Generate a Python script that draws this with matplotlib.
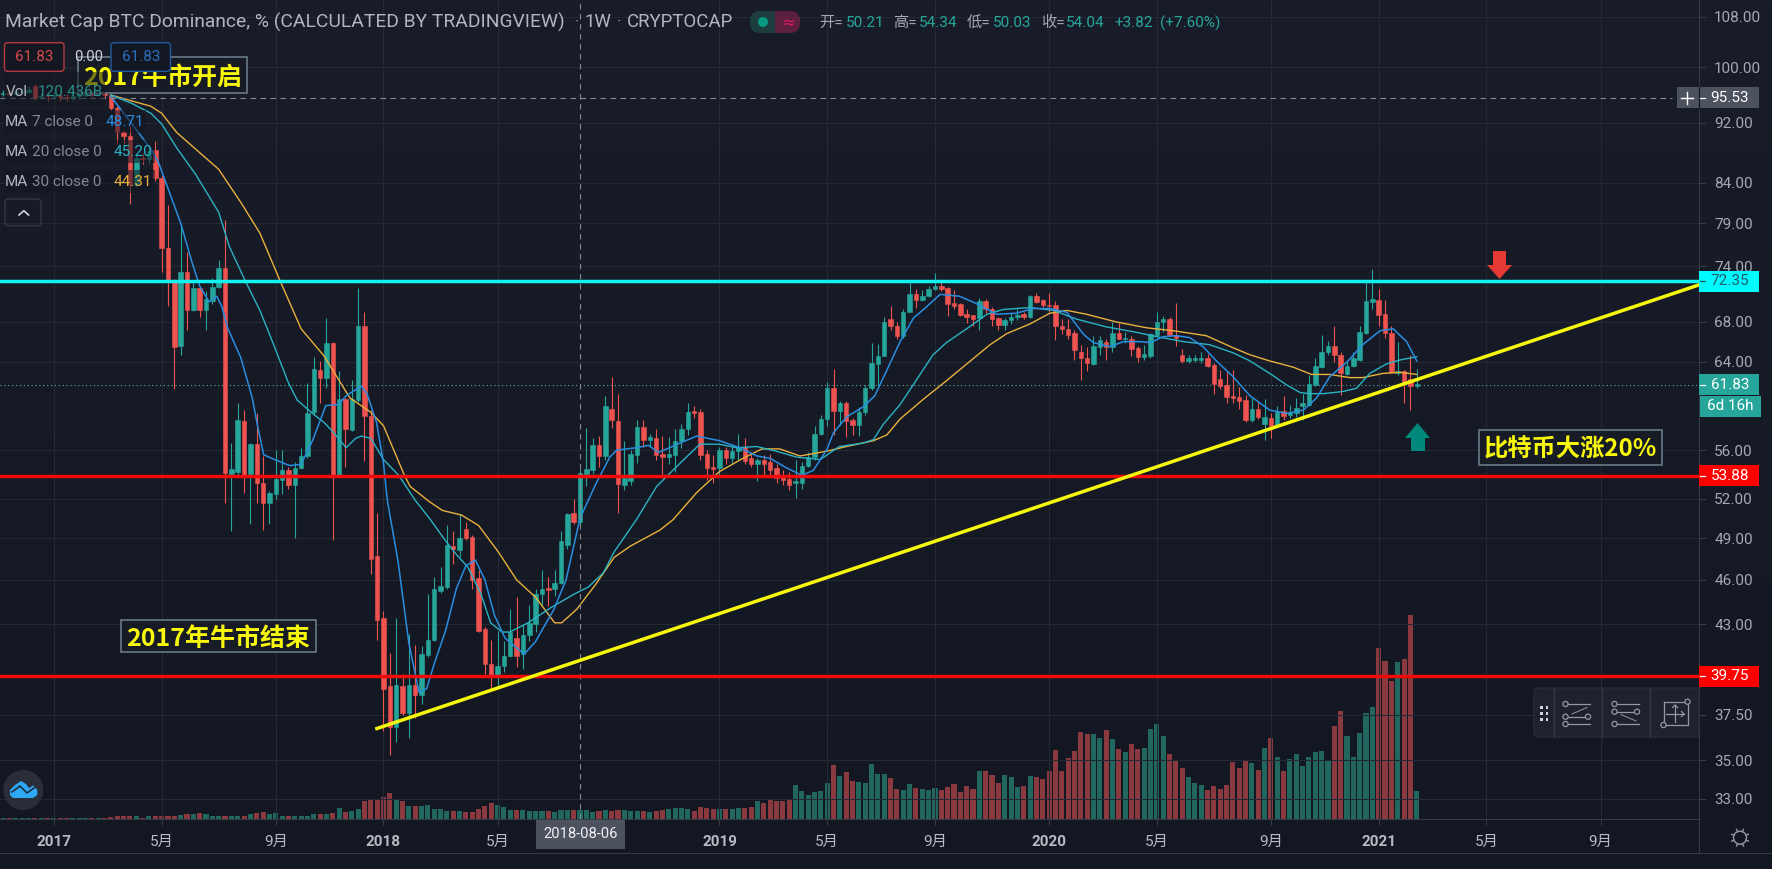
import numpy as np
import matplotlib
matplotlib.use("Agg")
import matplotlib.pyplot as plt
from matplotlib.colors import LinearSegmentedColormap
from matplotlib.lines import Line2D
from matplotlib.patches import Circle, FancyBboxPatch, Polygon, Rectangle
from matplotlib.ticker import NullLocator
from matplotlib.transforms import Affine2D, blended_transform_factory

W, H = 1772, 869
FIRST_WEEK = -60  # weeks counted from 2018-01-01

# -----------------------------------------------
# DATA
# -----------------------------------------------
candle_open = [
    96.0, 96.2, 96.1, 96.3, 96.4, 97.2, 95.6, 95.8, 95.7, 95.9, 95.6, 95.5, 95.7, 95.9, 96.0, 95.9, 96.2,
    95.9, 94.05, 90.7, 90.2, 83.7, 87.2, 87.0, 88.2, 84.6, 76.05, 72.35, 65.6, 73.3, 69.2, 71.55, 69.2, 70.2, 71.7,
    73.8, 54.0, 54.2, 58.5, 54.0, 56.5, 53.3, 51.7, 52.4, 53.5, 54.3, 53.1, 54.5, 55.5, 59.3, 63.2, 62.5, 65.9,
    53.9, 60.5, 57.7, 60.4, 67.6, 59.0, 47.7, 43.4, 39.15, 36.8, 39.15, 37.6, 39.25, 38.65, 41.05, 42.0, 45.2, 45.5,
    48.4, 48.1, 49.7, 49.1, 46.1, 42.7, 40.5, 39.8, 40.4, 41.0, 42.1, 41.1, 42.3, 43.0, 45.0, 45.45, 45.4, 45.8,
    48.5, 50.9, 50.2, 54.0, 54.3, 56.4, 55.5, 59.6, 58.5, 53.1, 53.4, 55.6, 58.0, 56.9, 57.0, 55.7, 55.4, 55.6,
    56.8, 57.8, 59.4, 59.3, 55.7, 54.6, 54.5, 56.0, 55.3, 55.9, 56.3, 55.3, 54.8, 55.2, 55.0, 54.5, 53.8, 53.6,
    53.3, 53.3, 54.7, 55.4, 57.4, 58.7, 61.5, 59.4, 60.1, 58.6, 58.2, 59.3, 61.5, 63.8, 64.6, 68.3, 67.6, 66.6,
    69.0, 70.9, 70.3, 70.7, 71.5, 71.8, 71.6, 70.0, 69.9, 68.8, 68.7, 68.4, 70.2, 69.4, 68.4, 67.7, 68.2, 68.5,
    68.8, 68.5, 70.7, 70.3, 69.8, 69.8, 67.6, 67.3, 66.9, 65.0, 64.4, 63.8, 65.5, 66.0, 65.5, 66.9, 66.3, 66.3,
    65.4, 64.5, 64.6, 66.7, 68.0, 68.3, 66.7, 64.7, 64.1, 64.2, 64.2, 64.4, 63.7, 62.4, 61.8, 60.8, 60.7, 60.4,
    58.6, 59.6, 58.3, 58.8, 58.1, 59.4, 59.1, 59.2, 59.9, 60.0, 61.8, 63.5, 65.0, 65.6, 64.7, 62.8, 63.6, 64.2,
    66.9, 70.1, 70.3, 68.8, 66.9, 62.9, 63.1, 62.4, 61.7,
]
candle_close = [
    96.2, 96.1, 96.3, 96.4, 96.6, 95.5, 95.8, 95.7, 95.9, 95.6, 95.5, 95.7, 95.9, 96.0, 95.9, 96.2, 95.9,
    94.05, 90.7, 90.1, 83.7, 87.2, 87.0, 88.1, 84.6, 76.05, 72.35, 65.5, 73.3, 69.2, 71.55, 69.2, 70.4, 71.7, 73.8,
    54.1, 54.4, 58.6, 53.85, 56.5, 53.3, 51.7, 52.5, 53.6, 54.3, 53.1, 54.5, 55.5, 59.2, 63.3, 62.5, 65.9, 53.9,
    60.5, 57.8, 60.5, 67.6, 59.0, 47.5, 43.3, 39.0, 36.8, 39.2, 37.6, 39.25, 38.65, 41.1, 42.0, 45.4, 45.6, 48.5,
    48.2, 49.0, 49.0, 46.0, 42.6, 40.5, 39.8, 40.4, 41.0, 42.5, 41.0, 42.3, 43.1, 45.0, 45.4, 45.3, 45.8, 48.8,
    50.8, 50.2, 54.1, 54.4, 56.4, 55.5, 59.9, 58.6, 53.2, 53.7, 55.7, 58.0, 56.9, 57.1, 55.6, 55.4, 55.7, 56.8,
    57.8, 59.3, 59.2, 55.6, 54.5, 54.4, 56.0, 55.3, 55.9, 56.3, 55.1, 54.8, 55.2, 54.8, 54.3, 53.7, 53.5, 53.1,
    53.4, 54.7, 55.4, 57.4, 58.7, 61.5, 59.4, 60.1, 58.5, 58.2, 59.3, 61.5, 63.9, 64.6, 68.0, 67.6, 66.6, 69.0,
    70.9, 70.3, 70.7, 71.5, 71.8, 71.5, 69.9, 69.7, 68.7, 68.5, 68.3, 70.2, 69.3, 68.3, 67.7, 68.2, 68.5, 68.7,
    68.5, 70.7, 70.1, 69.8, 69.7, 67.6, 67.3, 66.7, 65.2, 64.4, 63.9, 65.6, 66.2, 65.5, 66.9, 66.3, 66.4, 65.3,
    64.5, 64.8, 66.8, 68.0, 68.3, 66.7, 66.4, 64.1, 64.4, 64.4, 64.4, 63.6, 61.9, 61.7, 60.7, 60.6, 60.3, 58.6,
    59.6, 58.9, 58.9, 58.1, 59.4, 59.0, 59.3, 59.7, 60.1, 61.9, 63.6, 65.0, 65.6, 64.7, 62.9, 63.6, 64.4, 67.0,
    70.2, 70.4, 68.7, 66.9, 63.0, 63.1, 61.9, 61.7, 61.9,
]
candle_high = [
    96.6, 96.5, 96.6, 96.9, 97.2, 97.5, 96.2, 96.2, 96.3, 96.2, 96.0, 96.1, 96.3, 96.4, 96.4, 96.5, 96.6,
    96.0, 94.3, 91.0, 91.5, 87.6, 87.8, 88.5, 89.4, 85.0, 81.2, 72.6, 78.9, 75.6, 72.4, 71.8, 71.3, 72.7, 74.75,
    79.4, 56.6, 60.1, 59.5, 56.6, 59.2, 55.5, 52.6, 56.0, 56.0, 54.6, 55.0, 56.2, 62.0, 64.5, 64.1, 68.4, 66.0,
    63.1, 60.6, 62.3, 71.6, 69.0, 59.5, 50.9, 43.9, 41.2, 43.4, 39.9, 42.4, 41.7, 41.6, 45.0, 46.2, 46.9, 50.0,
    49.5, 50.8, 50.2, 49.2, 46.7, 42.8, 42.0, 42.6, 41.9, 44.0, 44.8, 43.0, 44.3, 45.4, 46.7, 46.2, 46.7, 49.5,
    50.9, 52.0, 54.4, 57.9, 57.0, 57.2, 60.8, 62.6, 61.0, 56.8, 56.0, 58.6, 58.6, 57.4, 57.8, 57.2, 57.1, 57.8,
    58.3, 60.1, 59.9, 59.6, 56.0, 55.6, 56.3, 56.3, 56.5, 57.4, 57.0, 55.8, 55.3, 55.6, 55.7, 54.8, 54.3, 54.2,
    55.2, 55.0, 55.8, 58.1, 59.1, 62.1, 63.3, 60.3, 60.3, 58.8, 59.8, 61.8, 65.9, 65.8, 68.5, 69.7, 68.0, 69.3,
    72.35, 71.5, 71.4, 71.8, 73.2, 72.35, 71.7, 71.4, 70.0, 69.3, 68.7, 70.5, 70.4, 69.6, 68.5, 68.4, 69.0, 69.3,
    69.0, 70.8, 71.1, 70.4, 71.1, 70.2, 68.3, 68.3, 67.2, 65.7, 65.5, 66.6, 66.6, 66.3, 68.0, 67.9, 67.0, 66.6,
    65.6, 65.7, 66.9, 69.0, 68.6, 68.5, 70.0, 65.3, 64.7, 64.7, 65.0, 64.8, 63.9, 63.2, 63.1, 63.2, 61.6, 60.9,
    60.6, 60.2, 60.5, 59.2, 59.9, 60.8, 60.0, 60.6, 61.0, 62.7, 64.4, 66.7, 66.1, 67.6, 65.0, 64.1, 65.0, 67.6,
    72.35, 73.7, 71.5, 70.3, 67.6, 66.0, 63.2, 64.7, 63.3,
]
candle_low = [
    95.7, 95.8, 95.9, 96.0, 96.2, 95.2, 95.3, 95.0, 95.4, 95.1, 95.0, 95.0, 95.3, 95.6, 95.6, 95.7, 95.5,
    93.8, 89.1, 89.1, 81.3, 83.4, 86.4, 86.5, 84.2, 73.3, 69.7, 61.4, 64.7, 67.2, 69.1, 68.5, 67.2, 69.9, 71.6,
    51.7, 49.5, 53.9, 52.5, 50.1, 51.7, 49.6, 50.1, 52.0, 52.4, 52.8, 49.0, 54.4, 55.3, 59.1, 60.1, 61.5, 48.9,
    53.8, 54.6, 57.6, 60.2, 55.1, 46.4, 42.0, 36.6, 35.3, 36.0, 37.5, 36.2, 37.3, 38.1, 40.9, 41.9, 45.1, 45.4,
    47.1, 47.6, 48.9, 45.4, 42.5, 39.9, 39.0, 39.2, 40.0, 40.9, 40.3, 40.2, 41.9, 42.5, 44.3, 44.2, 44.9, 45.7,
    48.2, 50.1, 49.9, 53.0, 54.0, 54.6, 55.2, 57.9, 50.9, 52.7, 53.1, 54.9, 56.3, 56.3, 55.2, 53.7, 54.8, 54.2,
    56.2, 57.3, 58.8, 55.2, 53.5, 53.3, 53.8, 54.8, 54.9, 55.2, 54.8, 54.6, 53.4, 53.9, 53.8, 53.3, 53.1, 52.7,
    52.1, 52.8, 54.6, 55.2, 57.3, 58.1, 57.3, 58.2, 57.1, 57.3, 57.2, 59.1, 61.3, 61.7, 64.6, 67.2, 66.3, 66.4,
    69.0, 69.5, 70.2, 70.6, 71.4, 71.3, 68.6, 69.4, 68.6, 67.9, 67.6, 67.2, 68.9, 67.6, 67.2, 67.2, 67.8, 68.2,
    68.3, 68.4, 70.0, 69.6, 69.0, 66.2, 66.8, 66.3, 64.2, 62.3, 63.1, 63.7, 64.7, 64.2, 65.0, 66.3, 65.9, 64.6,
    64.0, 64.2, 64.4, 66.6, 67.0, 66.7, 65.6, 63.9, 63.9, 64.0, 63.9, 63.5, 61.0, 61.4, 60.1, 60.1, 59.6, 58.4,
    58.4, 58.7, 56.9, 57.0, 58.0, 58.6, 58.8, 58.9, 58.6, 59.9, 61.7, 63.4, 64.7, 64.0, 60.9, 62.7, 63.5, 64.1,
    66.8, 69.3, 67.6, 66.4, 62.9, 62.7, 60.1, 59.5, 61.5,
]
# volume in billions
volume = [
    5, 5, 5, 5, 5, 6, 6, 6, 6, 6, 5, 6, 5, 5, 6, 7, 7, 8,
    13, 13, 13, 13, 7, 13, 13, 13, 13, 13, 17, 21, 21, 27, 21, 16, 16, 16, 16, 16, 16, 21, 26, 31,
    21, 26, 16, 16, 16, 16, 16, 21, 21, 21, 26, 50, 30, 34, 43, 77, 86, 86,
    97, 112, 87, 79, 57, 57, 57, 62, 46, 44, 36, 36, 36, 30, 32, 44, 57, 70, 62, 53,
    40, 40, 40, 36, 36, 36, 36, 32, 40, 40, 40, 40, 40, 32, 36, 40, 36, 40, 40, 36,
    36, 36, 32, 36, 40, 44, 49, 49, 44, 36, 53, 49, 46, 44, 44, 44, 49, 49, 53, 79,
    70, 83, 79, 79, 83, 148, 122, 105, 118, 122, 156, 234, 186, 204, 165, 160, 156, 238, 195, 195,
    178, 130, 126, 152, 135, 130, 126, 135, 126, 139, 152, 118, 143, 130, 208, 208, 191, 156, 191, 182,
    139, 143, 186, 182, 173, 208, 298, 208, 264, 294, 375, 367, 367, 350, 384, 345, 302, 289, 324, 302,
    307, 388, 410, 358, 281, 251, 221, 182, 156, 148, 126, 143, 130, 148, 246, 221, 251, 242, 212, 307,
    350, 268, 208, 259, 281, 229, 268, 289, 294, 255, 401, 466, 358, 268, 371, 457, 483, 737, 681, 595,
    676, 689, 878, 122,
]

ma7_week = [-43, -36.7, -35.5, -32, -30.2, -29, -27.5, -26.3, -25.5, -24.6, -22.5, -20.7, -19.8, -18.9, -17.2,
            -14.8, -13, -11.2, -9.1, -7.1, -5.9, -3.5, -2.6, -1.1, 0, 0.6, 2.3, 4, 5.6, 6.8, 8, 9.8, 11.5, 13, 14.5,
            16, 17.5, 19.2, 22.2, 24, 26.9, 28.8, 31, 33.6, 35.7, 36.8, 39.9, 41.8, 43.4, 46.8, 49.4, 53, 56.2,
            58.9, 61, 63.6, 66, 67.8, 69.9, 71, 73.1, 75.7, 77.5, 79.4, 81.5, 83.6, 85.7, 87.8, 90.9, 93.6, 96.7,
            99.8, 102.5, 105.1, 107.8, 110.5, 112, 114.6, 116.7, 119.4, 121, 123, 125.1, 127.2, 129.3, 131.4,
            134, 136.7, 139.8, 142.5, 145.1, 147.2, 149.3, 152, 154.5, 157.2, 159.3, 161.4, 163]
ma7_value = [95.7, 88.4, 86.6, 79, 74.4, 71.8, 70.1, 70.7, 69.6, 67.4, 64.4, 60.6, 57.9, 55.6, 55.2,
             54.7, 54.8, 56.8, 59.9, 60, 60.8, 61.7, 61, 58.4, 54.9, 51.9, 47.3, 41.8, 38.8, 39, 40.5, 42.6, 45.4, 47, 47.4,
             46, 43.6, 42.1, 41.1, 41.9, 44, 46, 50.5, 53.3, 55.4, 56, 56.2, 56.4, 55.8, 56.6, 57.2, 56.8, 56.2,
             55.5, 55.3, 54.5, 53.9, 54.3, 56, 57.5, 58.9, 59.8, 60.8, 63.2, 66, 68.4, 69.6, 70.9, 70.7, 69.9, 68.8,
             68.9, 69.4, 69.4, 69, 66.7, 65.9, 65.5, 66, 66, 65.9, 66.5, 66.6, 66.4, 65.5, 64.1,
             62.6, 60.8, 59.5, 59.2, 59.5, 60.6, 62.6, 64, 65.7, 67.1, 67.3, 66, 64.1]

ma20_week = [-43, -39.7, -36.7, -35, -32.6, -29.6, -26, -24.3, -21.9, -19.5, -17.2, -15, -13.6, -11.2, -9.4, -8,
             -5.9, -4.4, -3.5, -2, 0, 2.4, 5, 7.4, 9.8, 11.5, 13.3, 15.4, 16.9, 18.7, 19.9, 22.8, 26.4, 30, 32.3, 34.7,
             36.4, 39.9, 43.1, 46.8, 49.9, 53, 55.7, 58.9, 62, 65.2, 68.9, 71.9, 75.7, 77.3, 78.8, 81.5, 84.1, 86.7,
             88.8, 92, 95.2, 97.8, 102, 105.7, 109.3, 114, 118.3, 122, 126.2, 130.3, 134, 136.7, 139.8, 142.5,
             144.6, 146, 148.3, 151.4, 153.5, 155.6, 158.2, 160.4, 163]
ma20_value = [95.9, 94.7, 93.3, 91.8, 88.5, 85, 80.3, 76.2, 72.5, 69.2, 65.5, 62, 60.4, 59.2, 58.4, 57.6,
              56.2, 57, 57.2, 57, 55.2, 53.9, 51.9, 50.4, 48.8, 47.8, 46.9, 45, 43.1, 42.5, 42.5, 43.1, 44.1, 45, 45.5, 46.5,
              48, 50.4, 53, 54.9, 56.5, 56.5, 56.2, 56.3, 55.9, 55.4, 55.2, 56.3, 56.6, 56.9, 58.2, 60, 62.3, 64.7,
              65.9, 67.3, 68.8, 69.3, 69.5, 69.2, 68.3, 67.5, 67, 66.5, 66, 65.7, 64.9, 64.1, 62.9, 61.8,
              61.1, 61, 61, 61.2, 61.5, 62.9, 63.8, 64.2, 64.5]

ma30_week = [-43, -39.7, -36.7, -35, -32.6, -26, -22.5, -19.5, -16.3, -13, -9.4, -5.3, -2, 0, 3.3, 4.2, 7.2, 9.3,
             12.3, 15, 18.1, 21, 24, 27, 28.1, 30.5, 33.5, 36.4, 38.9, 43.6, 45.7, 49.4, 53, 56.7, 59.7, 62.5, 65.7,
             69.9, 73, 77.3, 79.4, 81.5, 85.2, 88.8, 92, 95.7, 98.3, 102, 105.1, 107.8, 110.9, 115.6, 120.4, 124.6,
             129.8, 134, 136.7, 139.8, 143.5, 146.4, 149.3, 152.4, 154.5, 157.7, 160.4, 163]
ma30_value = [95.9, 95.05, 94.3, 93.3, 90.6, 85.7, 81.5, 77.8, 72.35, 67.3, 64.6, 60.6, 59.3, 58.1, 53.9, 53, 51.8, 51.1,
              50.75, 49.95, 48, 46, 44.8, 43.1, 43.1, 44, 45.7, 47.6, 48.4, 49.6, 50.4, 52.5, 54.2, 55.3, 56.1, 56.1, 55.5,
              55.9, 56.3, 56.8, 57.3, 58.7, 60.5, 62.2, 63.8, 65.7, 66.8, 67.8, 68.9, 69.2, 68.8, 68, 67.4, 67.1,
              66.6, 65.4, 64.7, 64.1, 63.5, 62.8, 62.8, 62.5, 62.5, 62.9, 63, 62.8]

support_weeks = [-1.04, 207.4]
support_values = [36.72, 71.9]
level_cyan = 72.35
level_red = [53.88, 39.75]
last_price = 61.83
top_dash_price = 95.53
cross_week = 31

y_ticks = [108, 100, 92, 84, 79, 74, 68, 64, 56, 52, 49, 46, 43, 37.5, 35, 33]
x_tick_weeks = [-52, -35, -17, 0, 18, 53, 70, 87, 105, 122, 140, 157, 174, 192]
x_tick_labels = ["2017", "5月", "9月", "2018", "5月", "2019", "5月", "9月", "2020", "5月", "9月", "2021", "5月", "9月"]

# -----------------------------------------------
# STYLE
# -----------------------------------------------
UP = "#26a69a"
DOWN = "#ef5350"
VOL_UP = "#22675f"
VOL_DOWN = "#8a3a3f"
GRID = "#252934"
FRAME = "#363a45"
TXT = "#a6a9b2"
YELLOW = "#f7f70c"
CJK = ["Noto Sans CJK SC", "DejaVu Sans"]
UI = ["Roboto", "Noto Sans CJK SC", "DejaVu Sans"]

plt.rcParams["font.family"] = UI
fig = plt.figure(figsize=(W / 100, H / 100), dpi=100)

# everything drawn on top of the chart is placed in image pixels
px = Affine2D().scale(1, -1).translate(0, H)

bg_ax = fig.add_axes([0, 0, 1, 1], zorder=-5)
bg_ax.imshow(np.linspace(0, 1, 256)[:, None], aspect="auto",
             cmap=LinearSegmentedColormap.from_list("bg", ["#191d29", "#131722"]))
bg_ax.axis("off")

PANE_RIGHT = 1698.8
PANE_BOTTOM = 819.3
rect = [0, 1 - PANE_BOTTOM / H, PANE_RIGHT / W, PANE_BOTTOM / H]

vol_ax = fig.add_axes(rect, zorder=1)
vol_ax.patch.set_visible(False)
ax = fig.add_axes(rect, zorder=2)
ax.patch.set_visible(False)

weeks = np.arange(FIRST_WEEK, FIRST_WEEK + len(candle_open))
o = np.array(candle_open)
c = np.array(candle_close)
is_up = c >= o

# -----------------------------------------------
# VOLUME
# -----------------------------------------------
vol_ax.bar(weeks, volume, width=0.8, color=np.where(is_up, VOL_UP, VOL_DOWN))
vol_ax.set_xlim(-60.5, 207.5)
vol_ax.set_ylim(0, 3515)
vol_ax.axis("off")

# -----------------------------------------------
# CANDLES AND LINES
# -----------------------------------------------
ax.set_yscale("log")
ax.set_xlim(-60.5, 207.5)
ax.set_ylim(32.0, 110.77)

ax.vlines(weeks, candle_low, candle_high, colors=np.where(is_up, UP, DOWN), lw=0.8, zorder=3)
ax.bar(weeks, np.abs(c - o), bottom=np.minimum(o, c), width=0.7,
       color=np.where(is_up, UP, DOWN), edgecolor=np.where(is_up, UP, DOWN), lw=0.4, zorder=4)

ax.plot(ma30_week, ma30_value, color="#e9b03c", lw=1.0, zorder=5)
ax.plot(ma20_week, ma20_value, color="#2ab3c4", lw=1.0, zorder=5)
ax.plot(ma7_week, ma7_value, color="#2a8ee0", lw=1.1, zorder=5)

ax.axhline(last_price, color="#5fa8a2", lw=0.8, ls=(0, (1, 2.5)), zorder=2)
ax.plot([-60.5, 203.3], [top_dash_price, top_dash_price], color="#85888f", lw=0.8, ls=(0, (5, 4)), zorder=6)
ax.axvline(cross_week, color="#85888f", lw=0.8, ls=(0, (5, 4)), zorder=6)
ax.axhline(level_cyan, color="#12f2f2", lw=2.5, zorder=7)
for lvl in level_red:
    ax.axhline(lvl, color="#f00a0a", lw=2.5, zorder=7)
ax.plot(support_weeks, support_values, color=YELLOW, lw=2.5, zorder=8)

ax.yaxis.tick_right()
ax.set_yticks(y_ticks)
ax.set_yticklabels([f"{t:.2f}" for t in y_ticks])
ax.yaxis.set_minor_locator(NullLocator())
ax.set_xticks(x_tick_weeks)
ax.set_xticklabels(x_tick_labels)
ax.tick_params(axis="y", length=5, width=0.8, color=FRAME, labelcolor=TXT, labelsize=11, pad=6)
ax.tick_params(axis="x", length=4, width=0.8, color=FRAME, labelcolor="#b8bbc3", labelsize=11, pad=7)
for lab in ax.get_xticklabels():
    if lab.get_text().startswith("20"):
        lab.set_fontweight("bold")
ax.grid(True, color=GRID, lw=0.8, zorder=0)
ax.set_axisbelow(True)
for side in ["top", "left"]:
    ax.spines[side].set_visible(False)
for side in ["right", "bottom"]:
    ax.spines[side].set_color(FRAME)
    ax.spines[side].set_linewidth(0.8)


# -----------------------------------------------
# PRICE TAGS
# -----------------------------------------------
tag_tr = blended_transform_factory(ax.transAxes, ax.transData)

def price_tag(price, color, fg, left=1699, right=1759):
    half = np.exp(10.5 / 660)
    ax.add_patch(Rectangle((left / PANE_RIGHT, price / half), (right - left) / PANE_RIGHT, price * half - price / half,
                           transform=tag_tr, fc=color, ec="none", clip_on=False, zorder=20))
    ax.text(1710.5 / PANE_RIGHT, price, f"{price:.2f}", transform=tag_tr, color=fg, fontsize=11,
            va="center", ha="left", clip_on=False, zorder=21)
    ax.add_line(Line2D([1700 / PANE_RIGHT, 1705 / PANE_RIGHT], [price, price], transform=tag_tr, color=fg,
                       lw=0.9, clip_on=False, zorder=21))

price_tag(level_cyan, "#00fbff", "#1c5f68")
price_tag(level_red[0], "#ff0000", "#ffffff")
price_tag(level_red[1], "#ff0000", "#ffffff")
price_tag(last_price, UP, "#ffffff")
price_tag(top_dash_price, "#4c525e", "#ffffff", left=1677)

fig.add_artist(Line2D([1698.5, 1698.5], [87, 108], transform=px, color="#131722", lw=0.8, zorder=30))
fig.add_artist(Line2D([1681, 1693], [97.7, 97.7], transform=px, color="#ffffff", lw=1.0, zorder=30))
fig.add_artist(Line2D([1687, 1687], [91.7, 103.7], transform=px, color="#ffffff", lw=1.0, zorder=30))

fig.add_artist(Rectangle((1700, 395.7), 61, 21, transform=px, fc=UP, ec="none", zorder=20))
fig.text(1730.5, 406, "6d 16h", transform=px, color="#ffffff", fontsize=11, ha="center", va="center", zorder=21)

fig.add_artist(Rectangle((536, 820), 89, 29, transform=px, fc="#4c525e", ec="none", zorder=20))
fig.text(580.4, 833.5, "2018-08-06", transform=px, color="#f0f1f3", fontsize=10.6, ha="center", va="center", zorder=21)

fig.add_artist(Line2D([0, W], [853, 853], transform=px, color=FRAME, lw=0.8, zorder=9))
fig.add_artist(Line2D([1699, 1699], [819, 853], transform=px, color=FRAME, lw=0.8, zorder=9))


# -----------------------------------------------
# YELLOW NOTES AND ARROWS
# -----------------------------------------------
def note(x0, y0, x1, y1, text, size):
    fig.add_artist(Rectangle((x0, y0), x1 - x0, y1 - y0, transform=px, fc="#171b26", ec="#69798a", lw=1.2, zorder=10))
    fig.text((x0 + x1) / 2, (y0 + y1) / 2 + 2.5, text, transform=px, color=YELLOW, fontsize=size, fontweight="bold",
             family=CJK, ha="center", va="center", zorder=11)

note(78, 57, 247, 93, "2017牛市开启", 18)
note(121, 620, 316, 652, "2017年牛市结束", 18)
note(1479, 430, 1662, 465, "比特币大涨20%", 17.5)

fig.add_artist(Polygon([(1493, 251), (1506, 251), (1506, 265), (1512, 265), (1499.5, 279), (1487, 265), (1493, 265)],
                       closed=True, transform=px, fc="#e53935", ec="none", zorder=12))
fig.add_artist(Polygon([(1411, 451), (1425, 451), (1425, 438), (1430, 438), (1417.5, 423), (1405, 438), (1411, 438)],
                       closed=True, transform=px, fc="#00897b", ec="none", zorder=12))


# -----------------------------------------------
# HEADER AND LEGEND
# -----------------------------------------------
def label(x, y, text, color=TXT, size=11, **kw):
    fig.text(x, y, text, transform=px, color=color, fontsize=size, va="center", zorder=16, **kw)

label(5, 22, "Market Cap BTC Dominance, % (CALCULATED BY TRADINGVIEW)", size=13.9, color="#b2b5be")
label(575, 22, "·", size=12)
label(585, 22, "1W", size=13.4, color="#b2b5be")
label(617, 22, "·", size=12)
label(627, 22, "CRYPTOCAP", size=13.4, color="#b2b5be")

fig.add_artist(FancyBboxPatch((750, 11), 50, 22, boxstyle="round,pad=0,rounding_size=10", transform=px,
                              fc="#1d3d3e", ec="none", zorder=15))
fig.add_artist(FancyBboxPatch((775, 11), 25, 22, boxstyle="round,pad=0,rounding_size=10", transform=px,
                              fc="#5c1f3e", ec="none", zorder=15))
fig.add_artist(Rectangle((775, 11), 8, 22, transform=px, fc="#5c1f3e", ec="none", zorder=15))
fig.add_artist(Circle((763, 22), 5, transform=px, fc="#089981", ec="none", zorder=16))
label(788, 22, "≈", color="#d81b60", size=12, ha="center", family=["DejaVu Sans"])

for x, text in [(819.6, "开="), (893.5, "高="), (967, "低="), (1041, "收=")]:
    label(x, 23, text, size=11)
for x, text in [(845.6, "50.21"), (919, "54.34"), (993, "50.03"), (1066, "54.04"), (1114, "+3.82"), (1160, "(+7.60%)")]:
    label(x, 23, text, color=UP, size=11)

# legend rows dim whatever is behind them
for x0, y0, x1, y1 in [(4, 72, 105, 105), (4, 110, 146, 133), (4, 140, 155, 163), (4, 170, 155, 193)]:
    fig.add_artist(Rectangle((x0, y0), x1 - x0, y1 - y0, transform=px, fc="#131722", alpha=0.55, ec="none", zorder=13))

for x0, edge, fg in [(4.5, "#b53a3f", "#d4474a"), (111, "#245a9c", "#2a6fbf")]:
    fig.add_artist(FancyBboxPatch((x0, 42.7), 59.5, 28.6, boxstyle="round,pad=0,rounding_size=3", transform=px,
                                  fc="#131722", ec=edge, lw=1.0, zorder=14))
    fig.text(x0 + 29.7, 57, "61.83", transform=px, color=fg, fontsize=11, ha="center", va="center", zorder=16)
label(74, 57, "0.00", color="#d1d4dc", size=10.6)

label(6, 92, "Vol", color="#b2b5be", size=11)
label(37.6, 92, "120.436B", color="#2a8f88", size=11)
for y, name, value, x_val, col in [(121.7, "7 close 0", "48.71", 106, "#2a8ee0"),
                                   (151.7, "20 close 0", "45.20", 114, "#2ab3c4"),
                                   (181.7, "30 close 0", "44.31", 114, "#e9b03c")]:
    label(5, y, "MA", color="#b2b5be")
    label(31.6, y, name, color="#868993")
    label(x_val, y, value, color=col)

fig.add_artist(FancyBboxPatch((5, 199), 36, 26.7, boxstyle="round,pad=0,rounding_size=3", transform=px,
                              fc="none", ec=FRAME, lw=0.9, zorder=14))
fig.add_artist(Line2D([19, 23.8, 28.6], [215, 210.7, 215], transform=px, color="#d1d4dc", lw=1.2, zorder=15))


# -----------------------------------------------
# DRAWING TOOLBAR, LOGO, GEAR
# -----------------------------------------------
ICON = "#9598a1"

def seg(xs, ys, color=ICON, lw=0.9):
    fig.add_artist(Line2D(xs, ys, transform=px, color=color, lw=lw, zorder=26))

def ring(x, y, r=2.6):
    fig.add_artist(Circle((x, y), r, transform=px, fc="#1e222d", ec=ICON, lw=0.9, zorder=27))

fig.add_artist(FancyBboxPatch((1534, 688), 165, 49, boxstyle="round,pad=0,rounding_size=4", transform=px,
                              fc="#1e222d", ec="#2a2e39", lw=0.8, zorder=25))
for x in [1553.5, 1602, 1650]:
    seg([x, x], [688, 737], color="#363a45")
for x in [1541.5, 1547]:
    for y in [707.5, 713.5, 719.5]:
        fig.add_artist(Rectangle((x - 1.2, y - 1.2), 2.4, 2.4, transform=px, fc="#d1d4dc", ec="none", zorder=27))

# fib style icon one
seg([1565, 1590], [704, 704]); seg([1565, 1588], [716.7, 716.7]); seg([1565, 1590], [724, 724])
ring(1565.5, 704); ring(1565.5, 716.7); ring(1588, 716.7); ring(1565.5, 724)
seg([1572, 1587], [714, 707.5], lw=0.7)
# fib style icon two
seg([1614, 1639], [704, 704]); seg([1614, 1637], [711.7, 711.7]); seg([1614, 1639], [724, 724])
ring(1614.5, 704); ring(1614.5, 711.7); ring(1637, 711.7); ring(1614.5, 724)
seg([1621, 1636], [714.5, 721], lw=0.7)
# position icon
seg([1663.5, 1687.5, 1687.5, 1663.5, 1663.5], [701.7, 701.7, 725, 725, 701.7])
seg([1675, 1675], [705, 722]); seg([1666, 1684], [714, 714])
seg([1672.5, 1675, 1677.5], [707.5, 705, 707.5]); seg([1681.5, 1684, 1681.5], [711.5, 714, 716.5])
ring(1687.5, 701.7); ring(1663.5, 725)

fig.add_artist(Circle((23.3, 790), 20, transform=px, fc="#2a2e39", ec="none", zorder=25))
fig.add_artist(Polygon([(10, 795), (10, 790), (15, 785), (21, 781), (26, 784), (29, 788), (33, 785.5), (37.3, 790),
                        (37.3, 795), (33, 798), (13, 798)], closed=True, transform=px,
                       fc="#2ea8f5", ec="none", zorder=26))
seg([12, 20, 27, 34], [792, 786, 793, 788], color="#1d2330", lw=1.1)

fig.add_artist(Circle((1740, 837.7), 6.5, transform=px, fc="none", ec=ICON, lw=1.0, zorder=26))
for deg in range(0, 360, 45):
    a = np.deg2rad(deg + 22)
    seg([1740 + 6.5 * np.cos(a), 1740 + 9 * np.cos(a)], [837.7 + 6.5 * np.sin(a), 837.7 + 9 * np.sin(a)], lw=1.0)

fig.savefig("out.png", dpi=100, facecolor="#131722")
